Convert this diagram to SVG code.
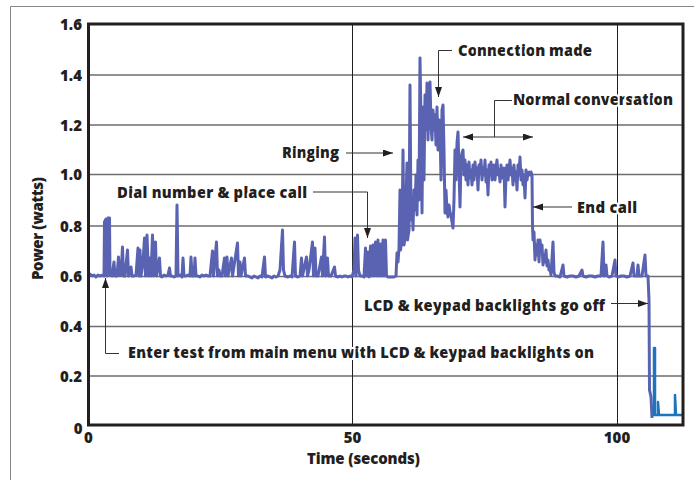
<svg xmlns="http://www.w3.org/2000/svg" width="694" height="480" viewBox="0 0 694 480">
<defs>
<style>
.t{font-family:"Open Sans",Lato,"Liberation Sans",sans-serif;font-weight:800;font-size:15px;fill:#231f20}
.halo{paint-order:stroke;stroke:#fff;stroke-width:4;stroke-linejoin:round}
.lead{fill:none;stroke:#333;stroke-width:1}
.gh{stroke:#6d6d6d;stroke-width:1.5}
.gv{stroke:#231f20;stroke-width:1}
.trace{fill:none;stroke:#5a62b2;stroke-width:3;stroke-linejoin:round}
.trace2{fill:none;stroke:#1d75bc;stroke-width:2.5;stroke-linejoin:round}
</style>
<marker id="ah" markerUnits="userSpaceOnUse" markerWidth="10" markerHeight="8" refX="10" refY="3.5" orient="auto-start-reverse">
<path d="M0,0 L10,3.5 L0,7 z" fill="#231f20"/>
</marker>
</defs>
<rect width="694" height="480" fill="#fff"/>
<path d="M694,6.5 H10.5 V480" fill="none" stroke="#888" stroke-width="1"/>
<g id="grid">
<line class="gh" x1="88" y1="75" x2="683" y2="75"/>
<line class="gh" x1="88" y1="125" x2="683" y2="125"/>
<line class="gh" x1="88" y1="174.5" x2="683" y2="174.5"/>
<line class="gh" x1="88" y1="226" x2="683" y2="226"/>
<line class="gh" x1="88" y1="276.5" x2="683" y2="276.5"/>
<line class="gh" x1="88" y1="326.5" x2="683" y2="326.5"/>
<line class="gh" x1="88" y1="376" x2="683" y2="376"/>
<line class="gv" x1="352.5" y1="24" x2="352.5" y2="425"/>
<line class="gv" x1="617.5" y1="24" x2="617.5" y2="425"/>
</g>
<g id="trace">
<polyline class="trace" points="88,275 90,274 92,276 94,275 96,277 98,275 100,276 103,275 104,276 104.5,222 106,219 107,276 108,218 109.5,218 110,275 112,276 114,262 115,276 117,276 118.5,257 119.5,275 121,275 122.5,247 123.5,276 125,276 127.5,250 128.5,276 130,270 131,267 132,276 134,276 136,275 138,248 139,276 140,250 141,276 143,262 144.5,238 145.5,276 147,235 148.5,276 150,258 151,276 152.5,235 153.5,276 155.5,242 156.5,276 159.5,258 160.5,276 162,277 164,275 166,276 168,275 169.5,268 170.5,276 172,276 174,277 176,276 177,205 178,276 180,275 182,277 183,258 184,276 186,276 188,275 190,276 191,257 192,276 194,276 195,258 196,276 198,276 200,277 202,275 204,276 206,275 208,276 210,276 212.5,251 213.5,276 216.5,242 217.5,276 219,270 220,276 222,276 224.5,258 225.5,276 227,257 228,276 231.5,258 232.5,276 237.5,243 238.5,276 240,262 241,276 244.5,258 245.5,276 248,276 250,277 252,278 254,276 256,277 258,278 260,276 262,277 264.5,257 265.5,277 268,276 270,277 272,278 274,276 276,277 278,276 280,270 282.5,230 283.5,270 285,276 288,277 290,276 292,277 294.5,242 295.5,276 298,277 300,276 301.5,258 302.5,276 306.5,257 307.5,276 309,270 312.5,242 313.5,276 315,248 316,276 318,276 321.5,257 322.5,276 324.5,237 325.5,276 327.5,258 328.5,276 331,276 334.5,267 335.5,276 338,277 340,276 342,277 344,276 346,276 348,277 350,276 352,277 354,270 355,238 356,276 357.5,235 358.5,270 360,276 362,276 364,277 365.5,248 366.5,276 368,252 369,277 370.5,246 371.5,276 373,245 374,276 375.5,242 376.5,276 378,240 379,276 380.5,244 381.5,276 383,240 384,276 385.5,240 386.5,276 388,277 391,277 394,277 396,276 397,253 398,262 399,248 400,190 400.5,250 402,240 403,150 404,245 405.5,235 406,200 407,163 407.5,240 409,230 410,85 411,220 412,200 413,230 414,190 415,210 416,175 417,215 418,160 419,200 420,58 421,120 422,213 423,107 424,180 425,95 426,130 427,83 428,140 429,100 430,82 431,125 432,140 433,110 434,130 435,115 436,145 437,107 438,150 439,120 440,127 441,180 442,110 443,105 444,150 445,213 446,190 447,210 448,217 449,205 450,212 451,215 452,222 453,228 454,200 455,150 456,180 457,143 458,132 459,170 460,207 461,160 462,153 463,150 464,175 465,160 466,180 467,165 468,185 469,162 470,178 471,170 472,185 473,165 474,180 475,162 476,175 477,168 478,190 479,165 480,172 481,160 482,180 483,168 484,175 485,160 486,182 487,170 488,195 489,165 490,175 491,162 492,180 493,170 494,165 495,180 496,168 497,160 498,175 499,170 500,182 501,165 502,178 503,170 504,168 505,207 506,175 507,165 508,180 509,170 510,160 511,175 512,168 513,185 514,165 515,180 516,172 517,190 518,165 519,175 520,157 521,180 522,170 523,185 524,175 525,198 526,170 527,180 528,173 529,172 530,175 531,172 532,175 532.5,225 533,240 534,232 535,260 536,245 537,255 538,240 539,262 540,240 541,250 542,245 543,265 544,255 545,262 546,250 547,266 548,260 549,270 550,268 551,275 553,242 554,272 555,276 557,276 560,277 563,265 564,276 567,277 570,276 573,276 576,277 579,276 582,270 583,276 586,277 589,276 592,276 595,277 598,276 601,276 603,242 604,276 606,265 607,276 609,277 612,276 615,260 616,276 618,277 621,276 624,276 627,277 630,276 633,263 634,276 637,276 638,265 639,276 642,276 645,255 646,276 648,276 649,300 649.5,390 651,397 652,418"/>
<polyline class="trace2" points="652,415 654,415 654,348 655,348 655,415 658,415 658,402 659,415 675,415 675,395 676,415 682,415"/>
</g>
<rect x="88.5" y="24" width="594.5" height="401" fill="none" stroke="#231f20" stroke-width="3"/>
<g id="y-axis">
<g class="t" text-anchor="end">
<text x="82" y="30">1.6</text>
<text x="82" y="80.5">1.4</text>
<text x="82" y="130.5">1.2</text>
<text x="82" y="180">1.0</text>
<text x="82" y="232">0.8</text>
<text x="82" y="282">0.6</text>
<text x="82" y="332">0.4</text>
<text x="82" y="382">0.2</text>
<text x="82.5" y="434">0</text>
</g>
<text class="t" transform="translate(43,228.5) rotate(-90)" text-anchor="middle" textLength="103">Power (watts)</text>
</g>
<g id="x-axis">
<g class="t" text-anchor="middle">
<text x="88.5" y="443">0</text>
<text x="352.5" y="443">50</text>
<text x="617" y="443">100</text>
<text x="363.5" y="464" textLength="113">Time (seconds)</text>
</g>
</g>
<g id="connectors">
<polyline class="lead" points="313,192 367.5,192 367.5,238" marker-end="url(#ah)"/>
<polyline class="lead" points="346,153 393,153" marker-end="url(#ah)"/>
<polyline class="lead" points="452,50.5 438.5,50.5 438.5,97" marker-end="url(#ah)"/>
<polyline class="lead" points="512,100.5 494.5,100.5 494.5,137"/>
<line class="lead" x1="463" y1="137" x2="533" y2="137" marker-start="url(#ah)" marker-end="url(#ah)"/>
<polyline class="lead" points="572,207 533,207" marker-end="url(#ah)"/>
<polyline class="lead" points="611,303.5 648,303.5" marker-end="url(#ah)"/>
<polyline class="lead" points="119,353.5 105.5,353.5 105.5,278" marker-end="url(#ah)"/>
</g>
<g id="label-dial"><text class="t halo" x="117" y="198" textLength="190">Dial number &amp; place call</text></g>
<g id="label-ringing"><text class="t halo" x="282" y="158" textLength="57">Ringing</text></g>
<g id="label-connection"><text class="t halo" x="458" y="56" textLength="134">Connection made</text></g>
<g id="label-normal"><text class="t halo" x="513" y="105" textLength="160">Normal conversation</text></g>
<g id="label-end"><text class="t halo" x="577" y="212.5" textLength="60">End call</text></g>
<g id="label-lcd-off"><text class="t halo" x="364" y="311" textLength="241">LCD &amp; keypad backlights go off</text></g>
<g id="label-enter"><text class="t halo" x="128" y="358" textLength="466">Enter test from main menu with LCD &amp; keypad backlights on</text></g>
</svg>
